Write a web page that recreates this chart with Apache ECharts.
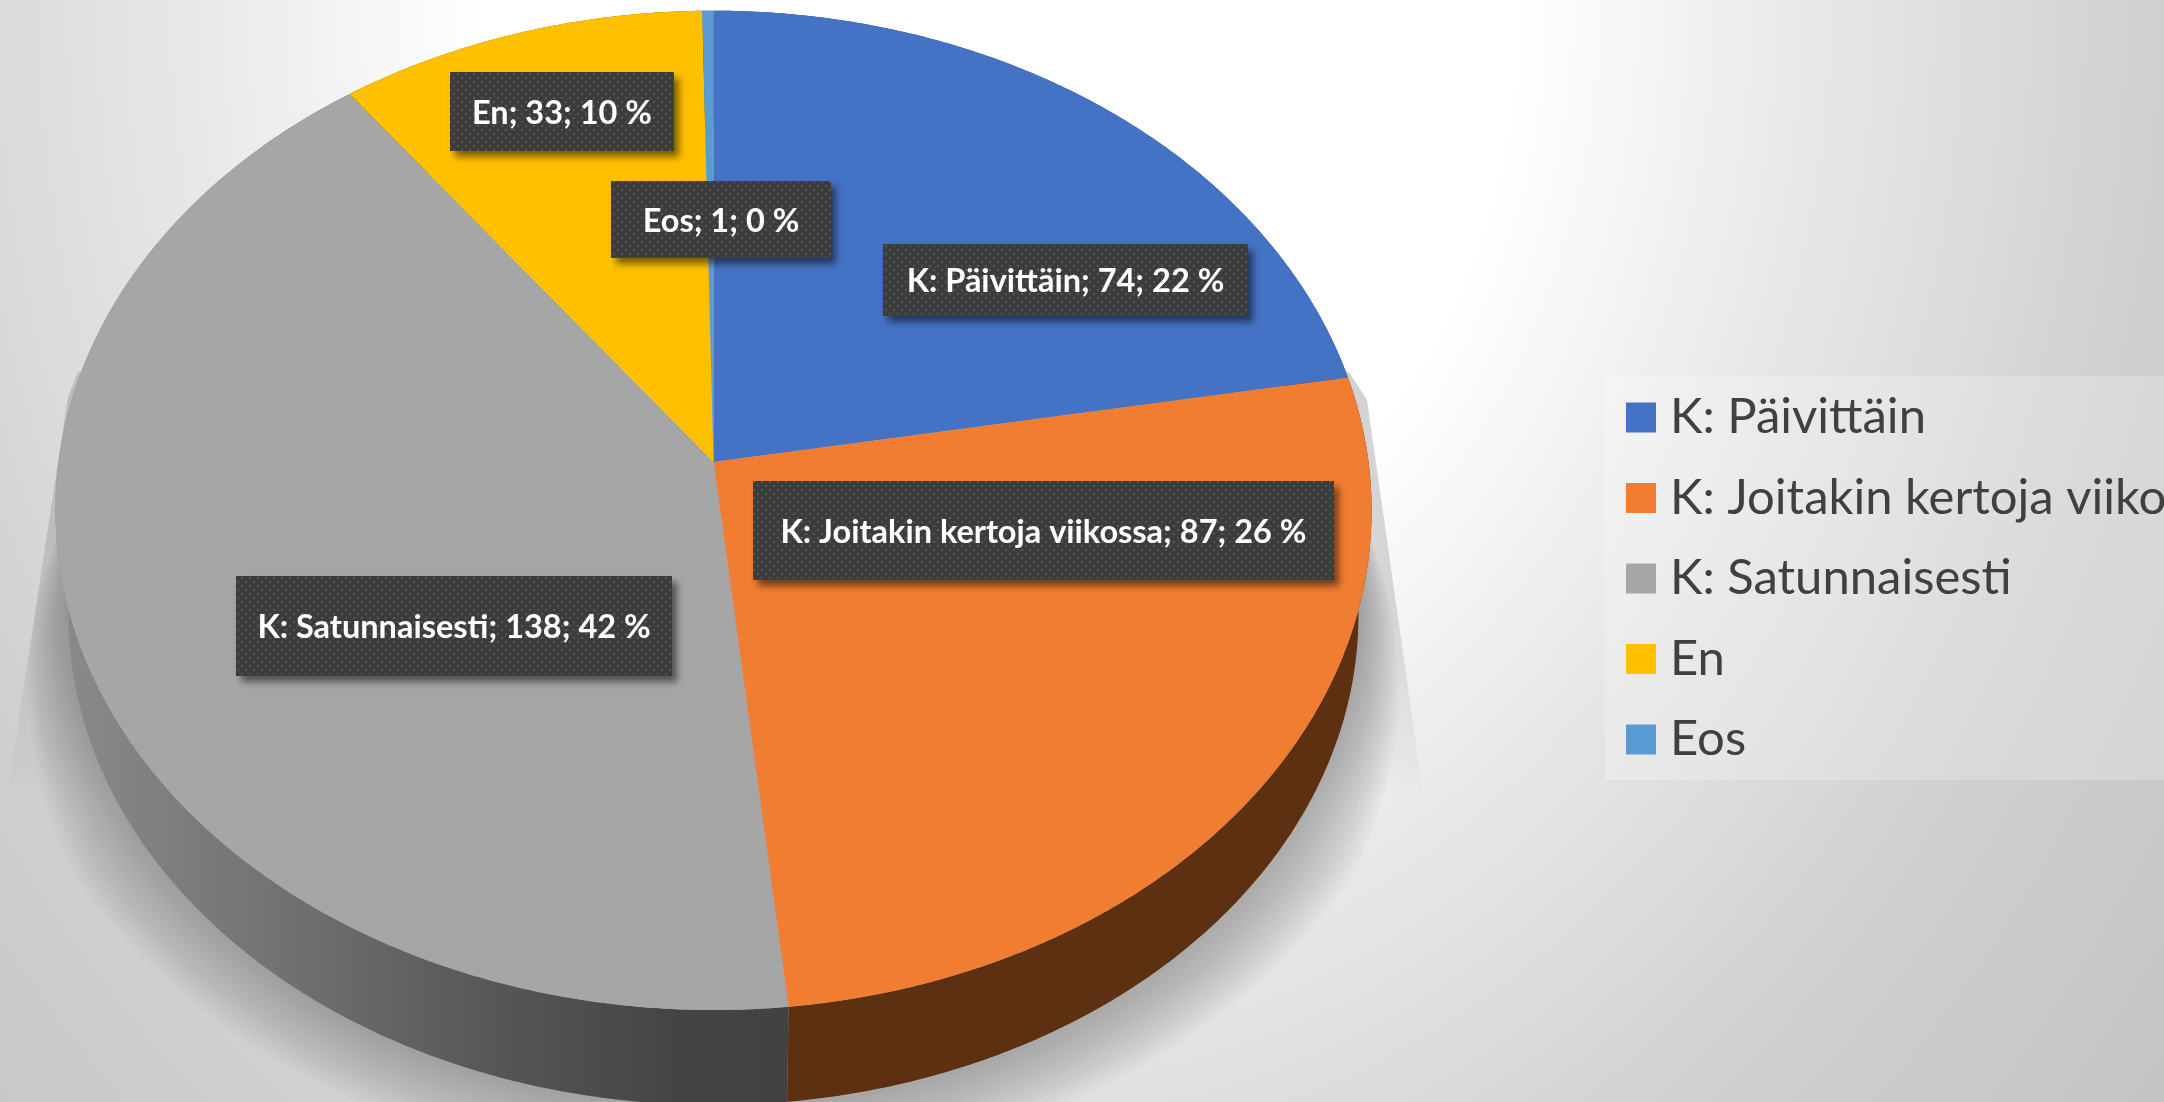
<!DOCTYPE html>
<html><head><meta charset="utf-8">
<style>html,body{margin:0;padding:0;background:#fff;overflow:hidden}#c{width:2164px;height:1102px}</style>
<script src="https://cdn.jsdelivr.net/npm/echarts@6/dist/echarts.min.js"></script>
</head><body><div id="c"></div>
<script>
const categories = ['K: Päivittäin', 'K: Joitakin kertoja viikossa', 'K: Satunnaisesti', 'En', 'Eos'];
const counts = [74, 87, 138, 33, 1];
const percents = [22, 26, 42, 10, 0];
const colors = ['#4472C4', '#F07D31', '#A6A6A6', '#FFC000', '#5B9BD5'];
const wallColors = ['#2a4478', '#5D3011', null, '#7a5c00', '#33587a'];
const labelBoxes = [[883, 244, 365, 72], [753, 481, 581, 99], [236, 576, 436, 100], [450, 72, 224, 79], [611, 181, 220, 77]];

const view = { x0: 713.5, y0: 462, A: 655, B: 495, k: 0.0967, depthScale: 0.98, depth: 106 };
const total = counts.reduce((a, b) => a + b, 0);
function project(deg, r, low) {
  const t = deg * Math.PI / 180, X = r * Math.sin(t), Y = r * Math.cos(t), w = 1 + view.k * Y;
  let sx = view.A * X / w, sy = -view.B * Y / w;
  if (low) { sx *= view.depthScale; sy = sy * view.depthScale + view.depth; }
  return [view.x0 + sx, view.y0 + sy];
}
function arc(a, b, low) {
  const n = Math.max(2, Math.ceil((b - a) * 2)), pts = [];
  for (let i = 0; i <= n; i++) pts.push(project(a + (b - a) * i / n, 1, low));
  return pts;
}
const dots = document.createElement('canvas');
dots.width = dots.height = 8;
(function () {
  const g = dots.getContext('2d');
  g.fillStyle = '#3c3c3c'; g.fillRect(0, 0, 8, 8);
  g.fillStyle = '#565656';
  g.fillRect(1, 1, 2, 2); g.fillRect(5, 5, 2, 2);
})();

function backdrop() {
  const S = 1.2;
  const stops = [[0, '#ffffff'], [0.35, '#ffffff'], [0.43, '#f6f6f6'], [0.55, '#e8e8e8'], [0.65, '#dedede'], [0.78, '#d0d0d0'], [1, '#c4c4c4']];
  const wedge = (pts, x) => ({
    type: 'polygon', z2: -8, shape: { points: pts },
    style: { fill: { type: 'linear', global: true, x: x, y: 380, x2: x, y2: 800,
      colorStops: [{ offset: 0, color: 'rgba(130,130,130,0.36)' }, { offset: 0.55, color: 'rgba(130,130,130,0.28)' }, { offset: 1, color: 'rgba(130,130,130,0)' }] } }
  });
  const rings = [];
  for (let i = 0; i < 16; i++) {
    const pts = [];
    for (let d = 0; d < 360; d += 3) {
      const f = Math.min(1, Math.max(0, 0.35 - 1.2 * Math.cos(d * Math.PI / 180)));
      pts.push(project(d, 1 + i * 0.0075 * f, true));
    }
    rings.push({ type: 'polygon', z2: -6, shape: { points: pts }, style: { fill: 'rgba(105,105,105,0.044)' } });
  }
  return {
    type: 'group', silent: true,
    children: [
      { type: 'group', scaleY: S, children: [{
        type: 'rect', z2: -10, shape: { x: 0, y: 0, width: 2164, height: 1102 / S },
        style: { fill: { type: 'radial', global: true, x: 1000, y: 0, r: 1470,
          colorStops: stops.map(s => ({ offset: s[0], color: s[1] })) } }
      }] },
      wedge([[78, 372], [68, 397], [8, 790], [300, 800], [300, 372]], 60),
      wedge([[1349, 372], [1367, 400], [1424, 800], [1100, 800], [1100, 372]], 1345)
    ].concat(rings)
  };
}

function sliceRenderer(i) {
  return function () {
    let acc = 0;
    for (let j = 0; j < i; j++) acc += counts[j];
    const a = acc / total * 360, b = (acc + counts[i]) / total * 360;
    const top = arc(a, b, false), low = arc(a, b, true).reverse();
    const wallFill = wallColors[i] || { type: 'linear', global: true, x: 60, y: 0, x2: 788, y2: 0,
      colorStops: [{ offset: 0, color: '#8a8a8a' }, { offset: 0.3, color: '#727272' }, { offset: 0.6, color: '#565656' }, { offset: 0.85, color: '#444444' }, { offset: 1, color: '#424242' }] };
    const box = labelBoxes[i];
    return {
      type: 'group',
      children: [
        { type: 'polygon', z2: 1, shape: { points: top.concat(low) }, style: { fill: wallFill } },
        { type: 'polygon', z2: 2, shape: { points: [[view.x0, view.y0]].concat(top) }, style: { fill: colors[i] } },
        { type: 'rect', z2: 5, shape: { x: box[0], y: box[1], width: box[2], height: box[3] },
          style: { fill: { image: dots, repeat: 'repeat' }, shadowBlur: 7, shadowOffsetX: 5, shadowOffsetY: 6, shadowColor: 'rgba(0,0,0,0.5)' } },
        { type: 'text', z2: 6, x: box[0] + box[2] / 2, y: box[1] + box[3] / 2 + 2,
          style: { text: categories[i] + '; ' + counts[i] + '; ' + percents[i] + ' %', fill: '#ffffff',
            font: 'bold 32.5px Lato', align: 'center', verticalAlign: 'middle' } }
      ]
    };
  };
}

const series = [{ type: 'custom', name: 'tausta', coordinateSystem: 'none', silent: true, data: [0], renderItem: backdrop }];
categories.forEach((name, i) => series.push({
  type: 'custom', name, coordinateSystem: 'none', silent: true,
  itemStyle: { color: colors[i] }, data: [counts[i]], renderItem: sliceRenderer(i)
}));

const chart = echarts.init(document.getElementById('c'), null, { renderer: 'canvas' });
chart.setOption({
  animation: false,
  legend: {
    data: categories, orient: 'vertical', left: 1605, top: 376, selectedMode: false,
    icon: 'rect', itemWidth: 30, itemHeight: 30, itemGap: 31.5,
    padding: [17, 60, 16, 21], backgroundColor: 'rgba(255,255,255,0.22)',
    textStyle: { color: '#404040', fontFamily: 'Lato', fontSize: 49, lineHeight: 30, padding: [0, 0, 0, 9] }
  },
  series
});
</script></body></html>
